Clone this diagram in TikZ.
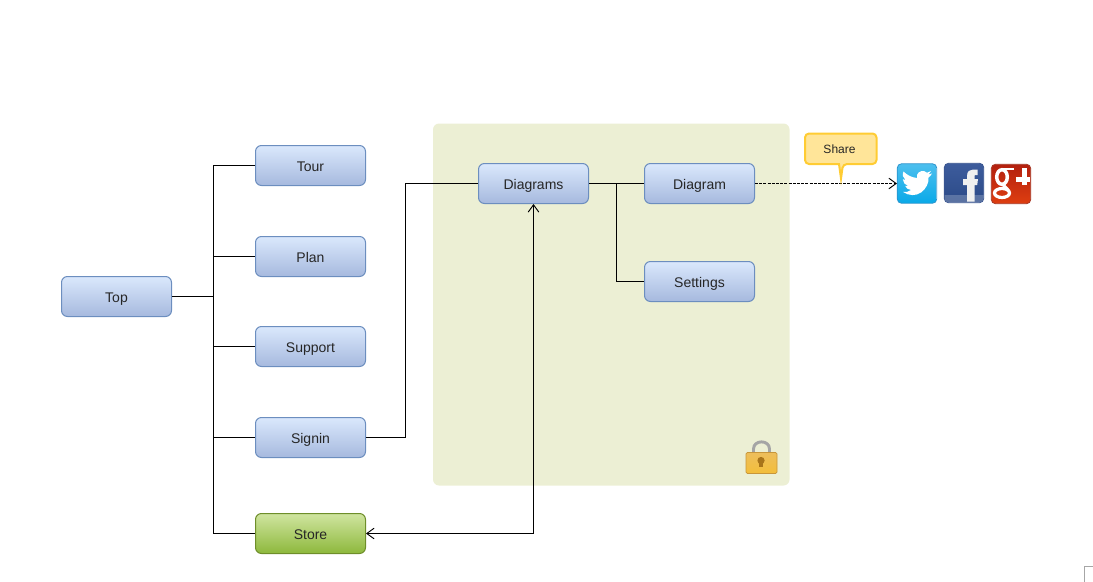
\documentclass[tikz,border=0pt]{standalone}
\usepackage{fontspec}
\setmainfont{Liberation Sans}
\usetikzlibrary{arrows.meta}
\definecolor{blueB}{HTML}{6C8EBF}
\definecolor{blueT}{HTML}{DAE8FC}
\definecolor{blueL}{HTML}{A6B9DE}
\definecolor{greenB}{HTML}{6E8E2A}
\definecolor{greenT}{HTML}{D0E5A0}
\definecolor{greenL}{HTML}{8DB83C}
\definecolor{panel}{HTML}{ECEFD4}
\definecolor{shareF}{HTML}{FFE599}
\definecolor{shareB}{HTML}{FFCC33}
\definecolor{twB}{HTML}{2A93CC}
\definecolor{twT}{HTML}{4DBFEE}
\definecolor{twL}{HTML}{09A9E8}
\definecolor{fbB}{HTML}{3A5590}
\definecolor{fbT}{HTML}{3D5C9C}
\definecolor{fbL}{HTML}{2B4A88}
\definecolor{gpB}{HTML}{A83A28}
\definecolor{gpT}{HTML}{B3200F}
\definecolor{gpL}{HTML}{DE3E10}
\definecolor{lockB}{HTML}{C8963A}
\definecolor{lockT}{HTML}{EDBE5C}
\definecolor{lockL}{HTML}{F3BE3A}
\definecolor{lockK}{HTML}{A8741A}
\definecolor{lockS}{HTML}{A5A5A5}
\tikzset{
  x=0.75pt,y=-0.75pt,
  pagebox/.style={draw=blueB,line width=0.75pt,rounded corners=4.5pt,top color=blueT,bottom color=blueL,
    minimum width=82.5pt,minimum height=30pt,inner sep=0pt,font=\fontsize{10.5}{12}\selectfont,text=black!85,
    text height=10pt,text depth=1.4pt},
  storebox/.style={pagebox,draw=greenB,top color=greenT,bottom color=greenL},
  link/.style={draw=black,line width=0.75pt},
  openarrow/.style={-{Straight Barb[length=5.5pt,width=8pt,line width=0.7pt]}},
  openboth/.style={{Straight Barb[length=5.5pt,width=8pt,line width=0.7pt]}-{Straight Barb[length=5.5pt,width=8pt,line width=0.7pt]}},
  iconbox/.style={minimum width=29.5pt,minimum height=29.5pt,inner sep=0pt,rounded corners=3pt,line width=0.6pt},
}
\begin{document}
\begin{tikzpicture}
\useasboundingbox (0,0) rectangle (1093,582);
% panel
\fill[panel,rounded corners=4.5pt] (433,123.5) rectangle (789.5,485.5);
% nodes
\node[pagebox] (top) at (116.5,296.5) {Top};
\node[pagebox] (tour) at (310.5,165.5) {Tour};
\node[pagebox] (plan) at (310.5,256.5) {Plan};
\node[pagebox] (support) at (310.5,346.5) {Support};
\node[pagebox] (signin) at (310.5,437.5) {Signin};
\node[storebox] (store) at (310.5,533.5) {Store};
\node[pagebox] (diagrams) at (533.5,183.5) {Diagrams};
\node[pagebox] (diagram) at (699.5,183.5) {Diagram};
\node[pagebox] (settings) at (699.5,281.5) {Settings};
% icon frames
\node[iconbox,draw=twB,top color=twT,bottom color=twL] (twitter) at (917,183.5) {};
\node[iconbox,draw=fbB,top color=fbT,bottom color=fbL] (facebook) at (964,183) {};
\node[iconbox,draw=gpB,top color=gpT,bottom color=gpL] (google) at (1011,184) {};
% connectors
\coordinate (bus) at (213.5,296.5);
\draw[link] (top.east) -- (bus);
\draw[link] (bus) |- (tour.west);
\draw[link] (bus) |- (plan.west);
\draw[link] (bus) |- (support.west);
\draw[link] (bus) |- (signin.west);
\draw[link] (bus) |- (store.west);
\coordinate (signinbend) at (405.5,437.5);
\draw[link] (signin.east) -- (signinbend) |- (diagrams.west);
\draw[link] (diagrams.east) -- (diagram.west);
\coordinate (branch) at (616.5,183.5);
\draw[link] (branch) |- (settings.west);
\draw[link,openboth] (store.east) -| (diagrams.south);
\draw[link,dash pattern=on 2.25pt off 0.9pt,openarrow] (diagram.east) -- (twitter.west);
% share callout
\draw[draw=shareB,fill=shareF,line width=1.5pt,rounded corners=3pt]
  (805,133.5) -- (876.5,133.5) -- (876.5,164) -- (843,164) [sharp corners] -- (841,178.5) -- (839,164) [rounded corners=3pt] -- (805,164) -- cycle;
\node[font=\fontsize{9}{11}\selectfont,text=black!85,inner sep=0pt] (share) at (839.5,149) {Share};
% twitter bird
\begin{scope}[shift={(897,164)}]
\fill[white] (6,28) .. controls (12,32) and (19,32) .. (24,28.5)
  .. controls (29,25) and (32,19) .. (31.5,13.5) .. controls (33,12.5) and (34,11) .. (35,9.5)
  .. controls (33.5,10) and (32.5,10.5) .. (31.5,10.5) .. controls (33,9.5) and (33.5,8.5) .. (34,7)
  .. controls (32.5,8) and (31.5,8.5) .. (30,8.8) .. controls (27,5.5) and (21,7) .. (20,11)
  .. controls (19.7,12) and (19.7,13) .. (20,14) .. controls (14.5,13.5) and (10,11) .. (6.5,7.5)
  .. controls (5,10.5) and (6,14) .. (8.5,16) .. controls (7.5,16) and (6.5,15.5) .. (5.8,15.2)
  .. controls (6,18.5) and (8,21) .. (11,21.8) .. controls (10,22) and (9,22) .. (8.2,21.9)
  .. controls (9,24) and (11,25.8) .. (14,26) .. controls (11.5,28) and (9,28.3) .. (6,28) -- cycle;
\end{scope}
% facebook f
\begin{scope}[shift={(944,163)}]
\begin{scope}
\clip[rounded corners=3pt] (0.5,0.5) rectangle (39.5,39.5);
\fill[white,opacity=.22] (0,31.5) rectangle (40,40);
\end{scope}
\fill[black!6] (23,38.5) -- (23,22) -- (19,22) -- (19,16) -- (23,16) -- (23,13)
  .. controls (23,8) and (26,6.5) .. (29,6.5) -- (33.5,6.5) -- (33.5,12) -- (31,12)
  .. controls (30.5,12) and (30.5,13) .. (30.5,14) -- (30.5,16) -- (34,16) -- (33.2,22) -- (30.5,22) -- (30.5,38.5) -- cycle;
\end{scope}
% google plus
\begin{scope}[shift={(991,164)}]
\draw[white,line width=2.6pt] (11,13) ellipse[x radius=5.3,y radius=7.3];
\draw[white,line width=1.6pt] (10,5) -- (23,5);
\draw[white,line width=2.4pt] (11,29) ellipse[x radius=7.5,y radius=4.5];
\draw[white,line width=2.4pt] (13,20) .. controls (12,23) and (16,23.5) .. (17.5,27);
\fill[white] (30.5,4) rectangle (35.5,21);
\fill[white] (25,12.5) rectangle (39,17.5);
\end{scope}
% lock
\draw[draw=lockS,line width=2.2pt] (753.5,453) -- (753.5,449) .. controls (753.5,439.5) and (769.5,439.5) .. (769.5,449) -- (769.5,453);
\draw[draw=lockB,top color=lockT,bottom color=lockL,line width=0.6pt,rounded corners=1pt] (746,452.5) rectangle (777,473.5);
\fill[lockK] (761,460.5) circle[radius=3.6];
\fill[lockK] (759,461) rectangle (763,467);
% page corner mark
\draw[draw=black!35,line width=0.75pt] (1093,566) -- (1084,566) -- (1084,582);
\end{tikzpicture}
\end{document}
